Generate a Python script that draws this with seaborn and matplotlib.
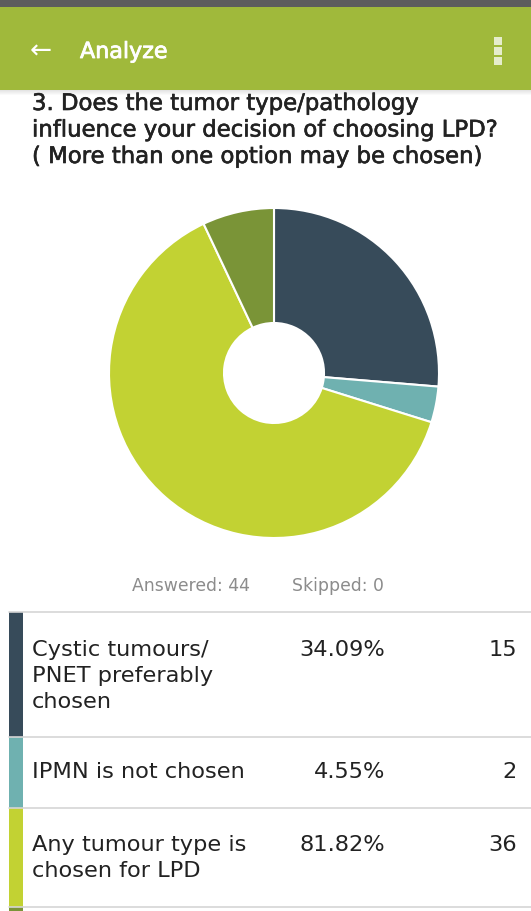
import numpy as np
import matplotlib
matplotlib.use("Agg")
import matplotlib.pyplot as plt
from matplotlib.patches import Rectangle
import matplotlib.patheffects as pe
import seaborn as sns

# Survey data
categories = ["Cystic tumours/\nPNET preferably\nchosen", "IPMN is not chosen",
              "Any tumour type is\nchosen for LPD", "Other tumour types"]
counts = [15, 2, 36, 4]
answered = 44
skipped = 0
question = ("3. Does the tumor type/pathology\n"
            "influence your decision of choosing LPD?\n"
            "( More than one option may be chosen)")

sns.set_theme(style="white")
palette = sns.color_palette(["#374b5a", "#6fb1b0", "#c2d233", "#7a9437"])
plt.rcParams['font.family'] = ['DejaVu Sans']

W, H = 531, 911
fig = plt.figure(figsize=(W / 100, H / 100), dpi=100)
fig.patch.set_facecolor("white")

# Full-figure canvas in pixel coordinates
bg = fig.add_axes([0, 0, 1, 1])
bg.set_xlim(0, W)
bg.set_ylim(H, 0)
bg.axis("off")


def lines(x, baseline, text, step, **kw):
    """Draw a multi-line string with a fixed pixel step between baselines."""
    for k, ln in enumerate(text.split("\n")):
        bg.text(x, baseline + k * step, ln, va="baseline", **kw)


# Status bar edge and header bar
bg.add_patch(Rectangle((0, 0), W, 7, color="#5d5d5d", lw=0))
for i, a in enumerate(np.linspace(0.25, 0.0, 7)):
    bg.add_patch(Rectangle((0, 89 + i), W, 1, color="black", alpha=a * 0.5, lw=0))
bg.add_patch(Rectangle((0, 7), W, 83, color="#a0b93b", lw=0))
bg.text(30, 52, "\u2190", color="white", fontsize=19, va="center", ha="left")
bg.text(80, 58, "Analyze", color="white", fontsize=16, va="baseline", ha="left",
        path_effects=[pe.withStroke(linewidth=0.6, foreground="white")])
for yy in (37, 47, 57):
    bg.add_patch(Rectangle((494, yy), 8, 7.5, color="#e6edcc", lw=0))

# Question text
lines(32, 110, question, 26.5, fontsize=16.4, ha="left", color="#222222",
      path_effects=[pe.withStroke(linewidth=0.45, foreground="#222222")])

# Donut chart
cx, cy, r = 274, 373, 165
pie_ax = fig.add_axes([(cx - r) / W, (H - cy - r) / H, 2 * r / W, 2 * r / H])
pie_ax.pie(counts, colors=palette, startangle=90, counterclock=False,
           wedgeprops=dict(width=(r - 50) / r, edgecolor="white", linewidth=1.5))
pie_ax.set_xlim(-1, 1)
pie_ax.set_ylim(-1, 1)
pie_ax.set_aspect("equal")
pie_ax.axis("off")

# Summary line
bg.text(191, 591, f"Answered: {answered}", fontsize=12.4, color="#8c8c8c",
        ha="center", va="baseline")
bg.text(338, 591, f"Skipped: {skipped}", fontsize=12.4, color="#8c8c8c",
        ha="center", va="baseline")

# Response table
row_edges = [612, 737, 808, 907, 1000]
baselines = [656, 778, 851]
for i in range(len(categories)):
    top, bot = row_edges[i], row_edges[i + 1]
    bg.add_patch(Rectangle((9, top), 14, bot - top, color=palette[i], lw=0))
    bg.plot([9, W], [top, top], color="#d5d5d5", lw=1.2)
    if i < 3:
        pct = counts[i] / answered * 100
        lines(32, baselines[i], categories[i], 26, fontsize=16.2, ha="left",
              color="#222222")
        bg.text(385, baselines[i], f"{pct:.2f}%", fontsize=16.2, va="baseline",
                ha="right", color="#222222")
        bg.text(517, baselines[i], f"{counts[i]}", fontsize=16.2, va="baseline",
                ha="right", color="#222222")

fig.savefig("out.png", dpi=100, facecolor="white")
